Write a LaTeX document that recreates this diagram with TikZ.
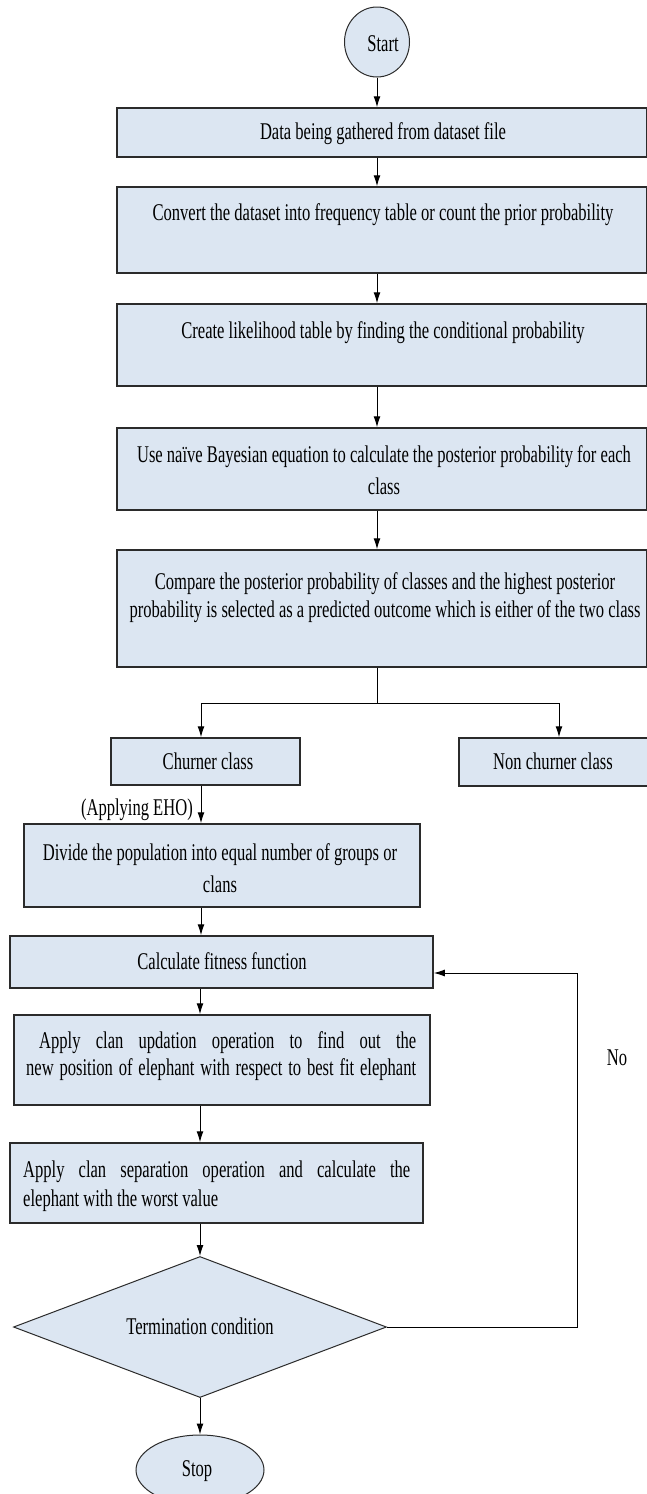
\documentclass[tikz,border=0pt]{standalone}
\usepackage{fontspec}
\setmainfont{Liberation Serif}[FakeStretch=0.69]
\usetikzlibrary{shapes.geometric,arrows.meta}
\definecolor{boxfill}{HTML}{DCE6F2}
\definecolor{edgec}{HTML}{2B2B2B}
\begin{document}
\begin{tikzpicture}[x=1pt,y=-1pt,
  box/.style={draw=edgec, line width=1.5pt, fill=boxfill, rectangle, inner sep=0pt},
  oval/.style={draw=edgec, line width=1pt, fill=boxfill, ellipse, inner sep=0pt},
  dmd/.style={draw=edgec, line width=1pt, fill=boxfill, diamond, inner sep=0pt},
  txt/.style={inner sep=0pt, font=\fontsize{24}{28}\selectfont, align=center, anchor=base},
  arr/.style={draw=black, line width=1pt, -{Latex[length=11pt,width=7pt]}},
  ln/.style={draw=black, line width=1pt}]
\useasboundingbox[fill=white] (0,0) rectangle (646,1494);

% shapes
\node[oval, minimum width=65, minimum height=70] (start) at (377,42) {};
\node[box, minimum width=530, minimum height=49] (b1) at (382,132.5) {};
\node[box, minimum width=530, minimum height=86] (b2) at (382,230) {};
\node[box, minimum width=530, minimum height=82] (b3) at (382,345) {};
\node[box, minimum width=530, minimum height=82] (b4) at (382,469) {};
\node[box, minimum width=530, minimum height=117] (b5) at (382,608.5) {};
\node[box, minimum width=189, minimum height=47] (churn) at (205.5,761.5) {};
\node[box, minimum width=189, minimum height=48] (nonch) at (553.5,762) {};
\node[box, minimum width=396, minimum height=83] (divide) at (222,865.5) {};
\node[box, minimum width=423, minimum height=52] (calc) at (221.5,962) {};
\node[box, minimum width=416, minimum height=90] (upd) at (222,1060) {};
\node[box, minimum width=413, minimum height=80] (sep) at (216.5,1183) {};
\node[dmd, minimum width=373, minimum height=141] (dia) at (200,1327) {};
\node[oval, minimum width=128, minimum height=70] (stop) at (200,1470) {};

% texts (multi-line nodes: base = baseline of last line)
\node[txt] (startt) at (383,51) {Start};
\node[txt] (b1t) at (383,139) {Data being gathered from dataset file};
\node[txt] (b2t) at (383,220) {Convert the dataset into frequency table or count the prior probability};
\node[txt] (b3t) at (383,338) {Create likelihood table by finding the conditional probability};
\node[txt, font=\fontsize{24}{32}\selectfont] (b4t) at (384,494) {Use na\"ive Bayesian equation to calculate the posterior probability for each\\class};
\node[txt, font=\fontsize{24}{28}\selectfont] (b5t) at (385,617) {Compare the posterior probability of classes and the highest posterior\\probability is selected as a predicted outcome which is either of the two class};
\node[txt] (churnt) at (208,769) {Churner class};
\node[txt] (noncht) at (553,769) {Non churner class};
\node[txt, anchor=base east] (eho) at (193,815) {(Applying EHO)};
\node[txt, font=\fontsize{24}{32}\selectfont] (dividet) at (220,892) {Divide the population into equal number of groups or\\clans};
\node[txt] (calct) at (222,969) {Calculate fitness function};
\node[txt, align=left, anchor=base west, font=\fontsize{24}{27}\selectfont] (updt) at (26,1075)
  {\hspace*{13pt}\makebox[377pt][s]{Apply clan updation operation to find out the}\\\makebox[390pt][s]{new position of elephant with respect to best fit elephant}};
\node[txt, align=left, anchor=base west, font=\fontsize{24}{29}\selectfont] (sept) at (23,1206)
  {\makebox[387pt][s]{Apply clan separation operation and calculate the}\\elephant with the worst value};
\node[txt] (diat) at (200,1334) {Termination condition};
\node[txt] (stopt) at (197,1476) {Stop};
\node[txt] (no) at (617,1065) {No};

% connectors
\draw[arr] (start.south) -- (start.south |- b1.north);
\draw[arr] (b1.south -| start) -- (b2.north -| start);
\draw[arr] (b2.south -| start) -- (b3.north -| start);
\draw[arr] (b3.south -| start) -- (b4.north -| start);
\draw[arr] (b4.south -| start) -- (b5.north -| start);
\coordinate (j) at (377,703);
\coordinate (jl) at (201,703);
\coordinate (jr) at (559,703);
\draw[ln] (b5.south -| start) -- (j);
\draw[ln] (jl) -- (jr);
\draw[arr] (jl) -- (jl |- churn.north);
\draw[arr] (jr) -- (jr |- nonch.north);
\draw[arr] (jl |- churn.south) -- (jl |- divide.north);
\draw[arr] (jl |- divide.south) -- (jl |- calc.north);
\draw[arr] (dia.north |- calc.south) -- (dia.north |- upd.north);
\draw[arr] (dia.north |- upd.south) -- (dia.north |- sep.north);
\draw[arr] (dia.north |- sep.south) -- (dia.north);
\draw[arr] (dia.south) -- (stop.north);
\coordinate (fb) at (577,1327);
\coordinate (fbt) at (577,973);
\draw[arr] (dia.east) -- (fb) -- (fbt) -- (calc.east |- fbt);
\end{tikzpicture}
\end{document}
